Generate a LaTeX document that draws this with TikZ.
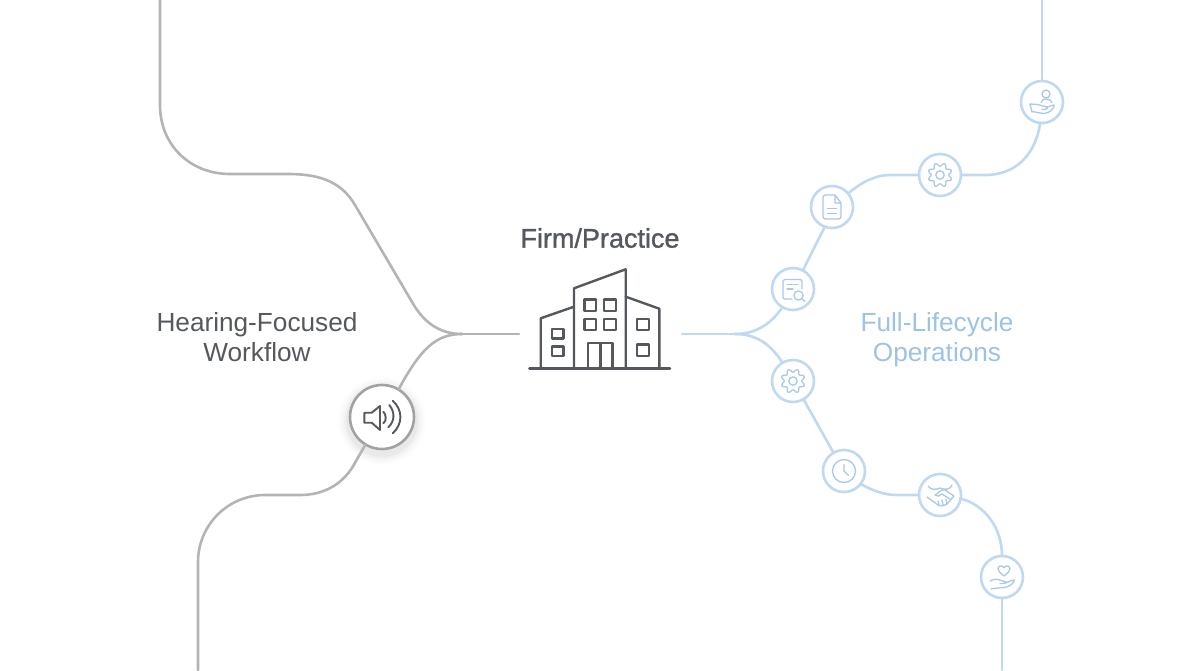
\documentclass[tikz,border=0pt]{standalone}
\usepackage{fontspec}
\setmainfont{Liberation Sans}
\newfontfamily\boldish[FakeBold=1.2]{Liberation Sans}
\definecolor{gline}{HTML}{B4B4B4}
\definecolor{bline}{HTML}{BFD9F1}
\definecolor{bicon}{HTML}{A9C9E8}
\definecolor{btext}{HTML}{9CC3E6}
\definecolor{dark}{HTML}{55585C}
\tikzset{
  x=1pt,y=-1pt,
  grayline/.style={draw=gline,line width=2.6pt,line cap=round},
  blueline/.style={draw=bline,line width=2.6pt,line cap=round},
  stopnode/.style={circle,draw=bline,line width=2.6pt,fill=white,minimum size=42pt,inner sep=0pt,outer sep=0pt},
  iconline/.style={draw=bicon,line width=1.3pt,line cap=round,line join=round},
  bldg/.style={draw=dark,line width=2.4pt,line join=round,line cap=round},
  lbl/.style={align=center,font=\fontsize{26.2}{30}\selectfont,inner sep=0pt},
  gearicon/.pic={
    \draw[iconline] plot[domain=0:360,samples=97,smooth cycle] ({(10.4+1.7*cos(8*\x))*cos(\x+22.5)},{(10.4+1.7*cos(8*\x))*sin(\x+22.5)});
    \draw[iconline] (0,0) circle (4.2);
  },
  docicon/.pic={
    \draw[iconline] (3,-12) -- (-6.5,-12) .. controls (-8,-12) and (-9,-11) .. (-9,-9.5) -- (-9,9.5) .. controls (-9,11) and (-8,12) .. (-6.5,12) -- (6.5,12) .. controls (8,12) and (9,11) .. (9,9.5) -- (9,-4) -- (3,-12) -- (3,-4) -- (9,-4);
    \draw[iconline] (-4.5,1.5) -- (4.5,1.5) (-4.5,6.5) -- (4.5,6.5);
  },
  searchicon/.pic={
    \draw[iconline] (-1,10) -- (-8,10) .. controls (-9.5,10) and (-10,9) .. (-10,8) -- (-10,-7) .. controls (-10,-8.5) and (-9,-9.5) .. (-8,-9.5) -- (7,-9.5) .. controls (8.5,-9.5) and (9,-8.5) .. (9,-7) -- (9,0);
    \draw[iconline] (-6,-4.5) -- (5,-4.5) (-6,0) -- (0,0);
    \draw[iconline] (5.5,6.5) circle (4.6);
    \draw[iconline] (8.8,9.8) -- (12,12.5);
  },
  personicon/.pic={
    \draw[iconline] (4,-8) circle (4);
    \draw[iconline] (-1,0.5) .. controls (0,-2.5) and (2,-3) .. (4,-3) .. controls (7,-3) and (9,-1.5) .. (10,0.5);
    \draw[iconline] (-12,2) -- (-4,2.5) .. controls (-1,3) and (2,5) .. (5,5) .. controls (7,6) and (5,7.5) .. (0,7.5);
    \draw[iconline] (5,5) .. controls (8,4.5) and (10,3) .. (12,3) .. controls (13,6) and (8,11) .. (2,11.5) .. controls (-2,11.5) and (-5,10) .. (-10,9.5) (-12,2) -- (-10,10);
  },
  clockicon/.pic={
    \draw[iconline] (0,0) circle (11.5);
    \draw[iconline] (0,-6.5) -- (0,0) -- (4.5,4.5);
  },
  shakeicon/.pic={
    \draw[iconline] (-12,-9) .. controls (-9,-5) and (-5,-5) .. (0,-7) .. controls (5,-5) and (10,-5) .. (12,-10);
    \draw[iconline] (-13,2) -- (-2,10) .. controls (2,12) and (5,10) .. (7,9) -- (14,1);
    \draw[iconline] (-5,0) -- (2,-5) .. controls (4,-6) and (6,-5) .. (8,-3) -- (14,1);
    \draw[iconline] (-5,0) .. controls (-3,2) and (0,1) .. (2,-1) -- (10,4);
    \draw[iconline] (-2,6) -- (-1,10) (2,5) -- (3,10) (6,4) -- (7,9);
  },
  hearticon/.pic={
    \draw[iconline] (2,-1) .. controls (-2,-4.5) and (-4,-6) .. (-4,-8) .. controls (-4,-11.5) and (0,-12) .. (2,-9.5) .. controls (4,-12) and (8,-11.5) .. (8,-8) .. controls (8,-6) and (6,-4.5) .. (2,-1) -- cycle;
    \draw[iconline] (-12,4) .. controls (-8,1.5) and (-4,2) .. (-1,3.5) .. controls (1,4.5) and (3,4) .. (5,5.5) .. controls (3,7) and (0,6.5) .. (-2,6.5);
    \draw[iconline] (5,5.5) .. controls (8,4) and (10,3) .. (12.5,3) .. controls (11,8) and (6,10) .. (2,10.5) .. controls (-3,11) and (-7,11) .. (-11,12);
  },
}
\begin{document}
\begin{tikzpicture}
\useasboundingbox (0,0) rectangle (1200,670);
% junctions and free ends
\coordinate (ltop) at (160,0);
\coordinate (lbot) at (198,670);
\coordinate (rtop) at (1042,0);
\coordinate (rbot) at (1002,670);
\coordinate (ljunc) at (462,334);
\coordinate (rjunc) at (735,334);
\coordinate (firmL) at (519,334);
\coordinate (firmR) at (682,334);
% shadow of the speaker stop
\foreach \r/\o in {44/0.008,42/0.01,40/0.015,38/0.02,36/0.03}
  \fill[black,opacity=\o] (382,421) circle (\r);
% stops
\node[circle,draw=gline!90!black,line width=2.6pt,fill=white,minimum size=64pt,inner sep=0pt,outer sep=0pt] (speaker) at (382,417) {};
\node[stopnode] (person) at (1042,102) {};
\node[stopnode] (gearA) at (940,175) {};
\node[stopnode] (doc) at (832,207) {};
\node[stopnode] (search) at (793,289) {};
\node[stopnode] (gearB) at (793,381) {};
\node[stopnode] (clock) at (844,471) {};
\node[stopnode] (shake) at (940,495) {};
\node[stopnode] (heart) at (1002,577) {};
% gray connectors
\draw[grayline] (firmL) -- (ljunc);
\draw[grayline] (ltop) -- (160,105) .. controls (160,145) and (190,174) .. (230,174) -- (288,174) .. controls (322,174) and (342,183) .. (355,205) -- (412,302) .. controls (424,323) and (440,334) .. (ljunc);
\draw[grayline] (ljunc) .. controls (435,334) and (420,350) .. (speaker.59);
\draw[grayline] (speaker.239) -- (352,468) .. controls (340,486) and (322,495) .. (300,495) -- (265,495) .. controls (228,495) and (198,525) .. (198,562) -- (lbot);
% blue connectors
\draw[blueline] (firmR) -- (rjunc);
\draw[blueline] (rjunc) .. controls (755,334) and (770,325) .. (search.240);
\draw[blueline] (rjunc) .. controls (755,334) and (770,343) .. (gearB.120);
\draw[blueline] (search.62) -- (doc.250);
\draw[blueline] (doc.40) .. controls (862,182) and (875,175) .. (890,175) -- (gearA.180);
\draw[blueline] (gearA.0) -- (985,175) .. controls (1018,175) and (1036,152) .. (person.265);
\draw[blueline] (person.90) -- (rtop);
\draw[blueline] (gearB.300) -- (clock.120);
\draw[blueline] (clock.-38) .. controls (873,491) and (885,495) .. (897,495) -- (shake.180);
\draw[blueline] (shake.-10) .. controls (985,505) and (1002,528) .. (heart.90);
\draw[blueline] (heart.270) -- (rbot);
% icons
\pic at (gearA) {gearicon};
\pic at (gearB) {gearicon};
\pic at (doc) {docicon};
\pic at (search) {searchicon};
\pic at (person) {personicon};
\pic at (clock) {clockicon};
\pic at (shake) {shakeicon};
\pic at (heart) {hearticon};
% speaker icon
\draw[dark,line width=1.9pt,line join=round] (364.3,412.7) -- (371.7,412.7) -- (380,406) -- (380,430) -- (371.7,422.7) -- (364.3,422.7) -- cycle;
\draw[dark,line width=1.9pt,line cap=round] (383.3,411.7) .. controls (386,414) and (387,421) .. (383.3,423.3);
\draw[dark,line width=1.9pt,line cap=round] (389.3,405) .. controls (395,412) and (395,421) .. (388.3,427.3);
\draw[dark,line width=1.9pt,line cap=round] (392.7,400.7) .. controls (403,410) and (403,424) .. (392.7,433.3);
% building
\draw[bldg] (529.3,368.3) -- (670,368.3);
\draw[bldg] (540.7,368) -- (540.7,318.3) -- (574,306.7);
\draw[bldg] (574,368) -- (574,288.3) -- (625.7,269.3) -- (625.7,368);
\draw[bldg] (625.7,296.7) -- (659.3,308.7) -- (659.3,368);
\foreach \a/\b/\c/\d in {551.7/329/563.3/338.3,551.7/346.3/563.3/356,584.3/299.3/595.7/310.7,604/299.3/615.7/310.7,584.3/318.7/595.7/330,604/318.7/615.7/330,637/319/648.7/330,637/344.3/648.7/356}
  \draw[bldg] (\a,\b) rectangle (\c,\d);
\draw[bldg] (588,368) -- (588,342.7) -- (612.3,342.7) -- (612.3,368);
\draw[bldg] (600.5,343) -- (600.5,368);
% labels
\node[lbl,text=dark] (firm) at (600,238) {\boldish\fontsize{27}{30}\selectfont Firm/Practice};
\node[lbl,text=dark] (hearing) at (257,337) {Hearing-Focused\\Workflow};
\node[lbl,text=btext] (full) at (937,340) {Full-Lifecycle\\Operations};
\end{tikzpicture}
\end{document}
